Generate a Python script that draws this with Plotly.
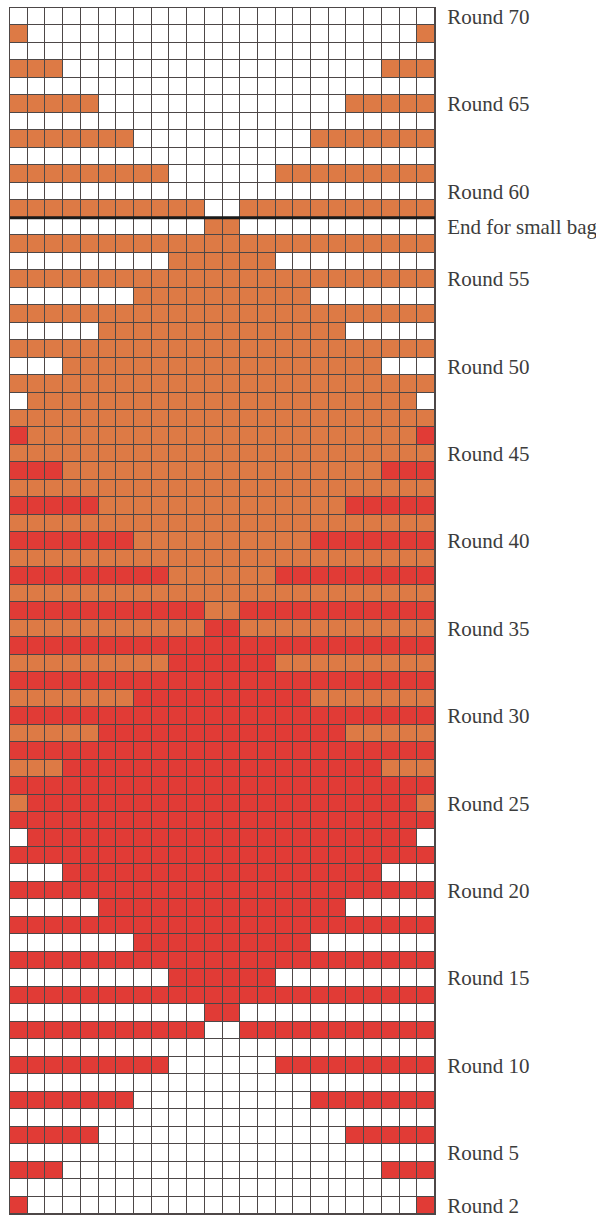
import plotly.graph_objects as go

# ---- data ----
n_stitches = 24
rounds = list(range(70, 1, -1))  # top row is round 70, bottom row is round 2

# run-length encoded rows, top (round 70) to bottom (round 2)
# W = white, O = orange, R = red
row_runs = [
    "W24", "O1 W22 O1", "W24", "O3 W18 O3", "W24", "O5 W14 O5", "W24",
    "O7 W10 O7", "W24", "O9 W6 O9", "W24", "O11 W2 O11", "W11 O2 W11",
    "O24", "W9 O6 W9", "O24", "W7 O10 W7", "O24", "W5 O14 W5", "O24",
    "W3 O18 W3", "O24", "W1 O22 W1", "O24", "R1 O22 R1", "O24",
    "R3 O18 R3", "O24", "R5 O14 R5", "O24", "R7 O10 R7", "O24",
    "R9 O6 R9", "O24", "R11 O2 R11", "O11 R2 O11", "R24", "O9 R6 O9",
    "R24", "O7 R10 O7", "R24", "O5 R14 O5", "R24", "O3 R18 O3", "R24",
    "O1 R22 O1", "R24", "W1 R22 W1", "R24", "W3 R18 W3", "R24",
    "W5 R14 W5", "R24", "W7 R10 W7", "R24", "W9 R6 W9", "R24",
    "W11 R2 W11", "R11 W2 R11", "W24", "R9 W6 R9", "W24", "R7 W10 R7",
    "W24", "R5 W14 R5", "W24", "R3 W18 R3", "W24", "R1 W22 R1",
]

label_rounds = [70, 65, 60, 58, 55, 50, 45, 40, 35, 30, 25, 20, 15, 10, 5, 2]
label_texts = ["Round 70", "Round 65", "Round 60", "End for small bag",
               "Round 55", "Round 50", "Round 45", "Round 40", "Round 35",
               "Round 30", "Round 25", "Round 20", "Round 15", "Round 10",
               "Round 5", "Round 2"]
small_bag_end_round = 58

colour_codes = {"W": 0, "O": 1, "R": 2}
WHITE, ORANGE, RED = "#FFFFFF", "#DD7A45", "#E13B36"
GRID = "#4d4747"

# ---- build matrix ----
z = []
for spec in row_runs:
    cells = []
    for run in spec.split():
        cells += [colour_codes[run[0]]] * int(run[1:])
    assert len(cells) == n_stitches, spec
    z.append(cells)
assert len(z) == len(rounds)

fig = go.Figure(go.Heatmap(
    z=z,
    x=list(range(1, n_stitches + 1)),
    y=rounds,
    zmin=0, zmax=2,
    colorscale=[[0, WHITE], [0.5, ORANGE], [1, RED]],
    showscale=False,
    xgap=1, ygap=1,
    hoverinfo="skip",
))

fig.add_shape(type="line", xref="x", yref="y",
              x0=0.5, x1=n_stitches + 0.5,
              y0=small_bag_end_round + 0.5, y1=small_bag_end_round + 0.5,
              line=dict(color="#1a1a1a", width=3))

fig.update_layout(
    width=596, height=1219,
    margin=dict(l=10, r=161, t=8, b=5),
    paper_bgcolor="white",
    plot_bgcolor=GRID,
    showlegend=False,
)
fig.update_xaxes(range=[0.5, n_stitches + 0.5], showgrid=False, zeroline=False,
                 showticklabels=False, ticks="", showline=True, mirror=True,
                 linecolor=GRID, linewidth=1, fixedrange=True)
fig.update_yaxes(range=[1.5, 70.5], showgrid=False, zeroline=False,
                 side="right", tickmode="array", tickvals=label_rounds,
                 ticktext=label_texts, ticks="", ticklabelstandoff=7,
                 ticklabeloverflow="allow",
                 tickfont=dict(family="Liberation Serif", size=21, color="#3c3c3c"),
                 showline=True, mirror=True, linecolor=GRID, linewidth=1,
                 automargin=False, fixedrange=True)

fig.write_html("out.html", config={"displayModeBar": False},
               post_script="document.body.style.margin='0';document.body.style.overflow='hidden';")
